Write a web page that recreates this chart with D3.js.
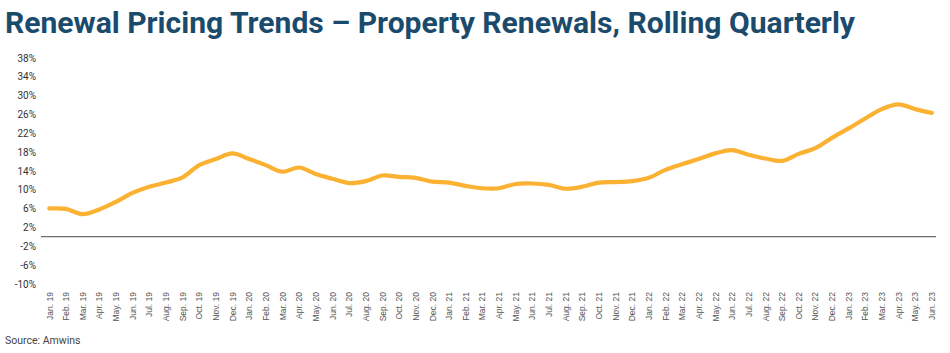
<!DOCTYPE html>
<html>
<head>
<meta charset="utf-8">
<script src="https://cdn.jsdelivr.net/npm/d3@7"></script>
<style>
  html, body { margin: 0; padding: 0; background: #fff; }
  svg { display: block; }
</style>
</head>
<body>
<svg id="chart" width="950" height="353"></svg>
<script>
const months = [
  "Jan. 19","Feb. 19","Mar. 19","Apr. 19","May. 19","Jun. 19","Jul. 19","Aug. 19","Sep. 19","Oct. 19","Nov. 19","Dec. 19",
  "Jan. 20","Feb. 20","Mar. 20","Apr. 20","May. 20","Jun. 20","Jul. 20","Aug. 20","Sep. 20","Oct. 20","Nov. 20","Dec. 20",
  "Jan. 21","Feb. 21","Mar. 21","Apr. 21","May. 21","Jun. 21","Jul. 21","Aug. 21","Sep. 21","Oct. 21","Nov. 21","Dec. 21",
  "Jan. 22","Feb. 22","Mar. 22","Apr. 22","May. 22","Jun. 22","Jul. 22","Aug. 22","Sep. 22","Oct. 22","Nov. 22","Dec. 22",
  "Jan. 23","Feb. 23","Mar. 23","Apr. 23","May. 23","Jun. 23"
];
const renewalChange = [
  6.0, 5.9, 4.8, 5.8, 7.4, 9.3, 10.6, 11.5, 12.6, 15.2, 16.5, 17.7,
  16.5, 15.2, 13.8, 14.7, 13.3, 12.3, 11.4, 11.8, 13.0, 12.7, 12.5, 11.7,
  11.5, 10.8, 10.3, 10.3, 11.2, 11.3, 11.0, 10.2, 10.6, 11.5, 11.6, 11.8,
  12.5, 14.2, 15.4, 16.5, 17.7, 18.4, 17.4, 16.6, 16.1, 17.6, 18.8, 21.0,
  23.0, 25.1, 27.1, 28.1, 27.1, 26.3
];
const yTicks = [-10, -6, -2, 2, 6, 10, 14, 18, 22, 26, 30, 34, 38];
const titleText = "Renewal Pricing Trends \u2013 Property Renewals, Rolling Quarterly";
const sourceText = "Source: Amwins";

const svg = d3.select("#chart");

// Title
svg.append("text")
  .attr("x", 5).attr("y", 33)
  .attr("font-family", "Roboto, 'Noto Sans', sans-serif")
  .attr("font-weight", 700)
  .attr("font-size", 29)
  .attr("fill", "#1b4b6c")
  .attr("textLength", 850)
  .attr("lengthAdjust", "spacingAndGlyphs")
  .text(titleText);

const x = d3.scalePoint().domain(months).range([49.3, 931.8]);
const y = d3.scaleLinear().domain([-10, 38]).range([283.8, 57.8]);

// Y axis labels
const yAxis = d3.axisLeft(y).tickValues(yTicks).tickSize(0).tickPadding(0)
  .tickFormat(d => d + "%");
const gy = svg.append("g").attr("transform", "translate(36,0)").call(yAxis);
gy.select(".domain").remove();
gy.selectAll("text")
  .attr("font-family", "Roboto, 'Liberation Sans', sans-serif")
  .attr("font-size", 10)
  .attr("fill", "#333");

// X axis labels
const xAxis = d3.axisBottom(x).tickSize(0).tickPadding(0);
const gx = svg.append("g").attr("transform", "translate(0,292)").call(xAxis);
gx.select(".domain").remove();
gx.selectAll("text")
  .attr("font-family", "'Liberation Sans', Arial, sans-serif")
  .attr("font-size", 8.5)
  .attr("fill", "#555")
  .attr("text-anchor", "end")
  .attr("dy", "0.32em")
  .attr("transform", "rotate(-90)")
  .attr("x", 0).attr("y", 0);

// Zero line
svg.append("line")
  .attr("x1", 41).attr("x2", 936)
  .attr("y1", y(0)).attr("y2", y(0))
  .attr("stroke", "#6e6e6e").attr("stroke-width", 1.3);

// Series line
const line = d3.line()
  .x((d, i) => x(months[i]))
  .y(d => y(d))
  .curve(d3.curveCatmullRom.alpha(0.5));

svg.append("path")
  .datum(renewalChange)
  .attr("d", line)
  .attr("fill", "none")
  .attr("stroke", "#fbb132")
  .attr("stroke-width", 4.2)
  .attr("stroke-linecap", "round")
  .attr("stroke-linejoin", "round");

// Source
svg.append("text")
  .attr("x", 5).attr("y", 344)
  .attr("font-family", "Roboto, 'Liberation Sans', sans-serif")
  .attr("font-size", 10.5)
  .attr("fill", "#444")
  .text(sourceText);
</script>
</body>
</html>
